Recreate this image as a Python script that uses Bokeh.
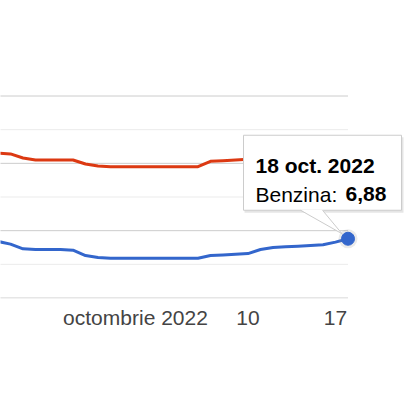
import pandas as pd
from bokeh.plotting import figure
from bokeh.models import Range1d, FixedTicker, Label
from bokeh.embed import file_html
from bokeh.resources import INLINE

# ---- data ----
dates = ["2022-09-20", "2022-09-21", "2022-09-22", "2022-09-23", "2022-09-24",
         "2022-09-25", "2022-09-26", "2022-09-27", "2022-09-28", "2022-09-29",
         "2022-09-30", "2022-10-01", "2022-10-02", "2022-10-03", "2022-10-04",
         "2022-10-05", "2022-10-06", "2022-10-07", "2022-10-08", "2022-10-09",
         "2022-10-10", "2022-10-11", "2022-10-12", "2022-10-13", "2022-10-14",
         "2022-10-15", "2022-10-16", "2022-10-17", "2022-10-18"]
benzina = [6.84, 6.80, 6.73, 6.72, 6.72, 6.72, 6.71, 6.63, 6.60, 6.59,
           6.59, 6.59, 6.59, 6.59, 6.59, 6.59, 6.59, 6.63, 6.64, 6.65,
           6.66, 6.72, 6.75, 6.76, 6.77, 6.78, 6.79, 6.83, 6.88]
motorina = [8.15, 8.14, 8.08, 8.05, 8.05, 8.05, 8.05, 7.99, 7.96, 7.95,
            7.95, 7.95, 7.95, 7.95, 7.95, 7.95, 7.95, 8.03, 8.04, 8.05,
            8.06, 8.07, 8.08, 8.09, 8.10, 8.11, 8.12, 8.13, 8.15]
tick_dates = ["2022-10-01", "2022-10-10", "2022-10-17"]
tick_labels = ["octombrie 2022", "10", "17"]
major_values = [6, 7, 8, 9]
minor_values = [6.5, 7.5, 8.5]
series_name = "Benzina"
tooltip_title = "18 oct. 2022"

# ---- scales ----
ref = pd.Timestamp("2022-09-30")
xd = [(pd.Timestamp(d) - ref).days for d in dates]
txd = [(pd.Timestamp(d) - ref).days for d in tick_dates]

W, H = 409, 408
FRAME_H = 298
px_day = 12.5
px_unit = 67.33
x_start = -9.8
x_end = x_start + W / px_day
y_start = 6 - 0.5 / px_unit
y_end = y_start + FRAME_H / px_unit

p = figure(width=W, height=H, output_backend="svg", toolbar_location=None,
           x_range=Range1d(x_start, x_end), y_range=Range1d(y_start, y_end),
           y_axis_location=None, min_border_left=0, min_border_right=0,
           min_border_top=0, min_border_bottom=H - FRAME_H)
p.outline_line_color = None
p.background_fill_color = "white"
p.xgrid.visible = False
p.ygrid.visible = False

# gridlines (bounded to the data domain)
last_x = xd[-1]
p.segment(x0=[x_start - 1] * len(minor_values), x1=[last_x] * len(minor_values),
          y0=minor_values, y1=minor_values, line_color="#ebebeb", line_width=1)
p.segment(x0=[x_start - 1] * len(major_values), x1=[last_x] * len(major_values),
          y0=major_values, y1=major_values, line_color="#cccccc", line_width=1)

# x axis
ax = p.xaxis[0]
ax.ticker = FixedTicker(ticks=txd)
ax.major_label_overrides = {t: l for t, l in zip(txd, tick_labels)}
ax.axis_line_color = None
ax.major_tick_line_color = None
ax.minor_tick_line_color = None
ax.major_tick_out = 0
ax.major_label_standoff = 7
ax.major_label_text_font = "Liberation Sans"
ax.major_label_text_font_size = "21px"
ax.major_label_text_color = "#444444"

# series
p.line(xd, motorina, line_color="#dc3912", line_width=3, line_join="round", line_cap="round")
p.line(xd, benzina, line_color="#3366cc", line_width=3, line_join="round", line_cap="round")

# focused point
ax_, ay_ = xd[-1], benzina[-1]
p.scatter([ax_], [ay_], size=19, fill_color="#888888", fill_alpha=0.18, line_color=None)
p.scatter([ax_], [ay_], size=13, fill_color="#3366cc", line_color="#3366cc")

def dx(px):
    return ax_ + px / px_day

def dy(py):  # py in screen px, downward positive
    return ay_ - py / px_unit

# tooltip shadow + box
bl, br, bt, bb = -104.5, 53.5, -103.5, -28.5
p.quad(left=[dx(bl + 1)], right=[dx(br + 2)], top=[dy(bt + 2)], bottom=[dy(bb + 2.5)],
       fill_color="#000000", fill_alpha=0.10, line_color=None)
p.quad(left=[dx(bl)], right=[dx(br)], top=[dy(bt)], bottom=[dy(bb)],
       fill_color="white", line_color="#cccccc", line_width=1)
# pointer
pl, pr, tipx, tipy = -47.5, -25.5, -6, -5
p.patch([dx(pl), dx(pr), dx(tipx)], [dy(bb - 0.5), dy(bb - 0.5), dy(tipy)],
        fill_color="white", line_color=None)
p.multi_line([[dx(pl), dx(tipx)], [dx(pr), dx(tipx)]],
             [[dy(bb), dy(tipy)], [dy(bb), dy(tipy)]],
             line_color="#cccccc", line_width=1)

val_text = f"{benzina[-1]:.2f}".replace(".", ",")
p.add_layout(Label(x=ax_, y=ay_, x_offset=-92.5, y_offset=72.8, text=tooltip_title,
                   text_font="Liberation Sans", text_font_size="21px",
                   text_font_style="bold", text_color="#000000", text_baseline="alphabetic"))
p.add_layout(Label(x=ax_, y=ay_, x_offset=-92.5, y_offset=44.5, text=series_name + ":",
                   text_font="Liberation Sans", text_font_size="21px",
                   text_color="#000000", text_baseline="alphabetic"))
p.add_layout(Label(x=ax_, y=ay_, x_offset=-2.5, y_offset=44.5, text=val_text,
                   text_font="Liberation Sans", text_font_size="21px",
                   text_font_style="bold", text_color="#000000", text_baseline="alphabetic"))

open("out.html", "w").write(file_html(p, INLINE))
